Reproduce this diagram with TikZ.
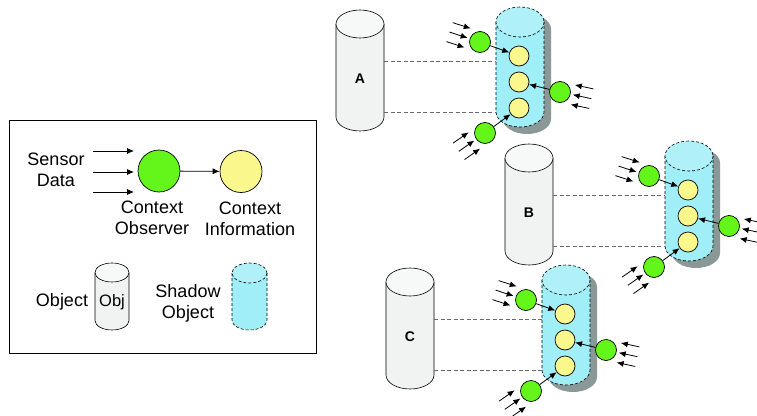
\documentclass[tikz,border=0pt]{standalone}
\usepackage{fontspec}
\setmainfont{Liberation Sans}
\usepackage{tikz}
\usetikzlibrary{arrows.meta}
\definecolor{obsgreen}{RGB}{100,245,26}
\definecolor{infoyellow}{RGB}{250,248,140}
\definecolor{shbody}{RGB}{160,238,248}
\definecolor{shtop}{RGB}{176,240,248}
\definecolor{objbody}{RGB}{241,243,243}
\definecolor{objtop}{RGB}{247,249,249}
\definecolor{dropgray}{RGB}{138,152,152}
\definecolor{linkgray}{RGB}{105,105,105}
\begin{document}
\begin{tikzpicture}[x=1pt, y=-1pt,
		every node/.style={font=\fontsize{18}{21}\selectfont},
		obs/.style={draw, circle, fill=obsgreen, minimum size=21pt, inner sep=0pt, line width=0.7pt},
		info/.style={draw, circle, fill=infoyellow, minimum size=20pt, inner sep=0pt, line width=0.7pt},
		arr/.style={-{Latex[length=7pt,width=6pt]}, line width=0.8pt},
		link/.style={draw=linkgray, dash pattern=on 4pt off 2.5pt, line width=0.8pt},
		shadowline/.style={dash pattern=on 3pt off 2pt, line width=0.6pt}]
		\useasboundingbox (0,0) rectangle (757,415);
		% legend
		\draw[line width=1pt] (9,120) rectangle (316,353);
		\node[obs, minimum size=42pt] (lobs) at (159,171) {};
		\node[info, minimum size=42pt] (linfo) at (241,171.5) {};
		\draw[arr] (lobs) -- (linfo);
		\foreach \y in {151,172,192} {
			\coordinate (s\y) at (93,\y);
			\draw[arr] (s\y) -- ++(41,0);
		}
		\node[align=center] (lsensor) at (56,170) {Sensor\\Data};
		\node[align=center] (lobstxt) at (152,218) {Context\\Observer};
		\node[align=center] (linftxt) at (250,219) {Context\\Information};
		\node (lobject) at (62,302) {Object};
		\node[align=center] (lshadow) at (188,303) {Shadow\\Object};
		\filldraw[fill=objbody, line width=0.6pt] (95,272.5) -- (95,320.5) arc[start angle=180, end angle=0, x radius=17, y radius=9.5] -- (129,272.5);
		\draw[fill=objtop, line width=0.6pt] (112,272.5) ellipse[x radius=17, y radius=9.5];
		\node[font=\fontsize{16.5}{18}\selectfont] (lobj) at (112,302) {Obj};
		\filldraw[shadowline, fill=shbody] (232,273) -- (232,320) arc[start angle=180, end angle=0, x radius=17.5, y radius=10] -- (267,273);
		\draw[shadowline, fill=shtop] (249.5,273) ellipse[x radius=17.5, y radius=10];
		% objects and their shadows
		\foreach \n/\ox/\sx/\sy in {A/336/496/7, B/505/665/141, C/386/542/265} {
			\fill[dropgray] (\sx+7,\sy+22) -- (\sx+7,\sy+112) arc[start angle=180, end angle=0, x radius=24, y radius=15] -- (\sx+55,\sy+22) arc[start angle=0, end angle=-180, x radius=24, y radius=15] -- cycle;
			\filldraw[shadowline, fill=shbody] (\sx,\sy+15) -- (\sx,\sy+105) arc[start angle=180, end angle=0, x radius=24, y radius=15] -- (\sx+48,\sy+15);
			\draw[shadowline, fill=shtop] (\sx+24,\sy+15) ellipse[x radius=24, y radius=15];
			\filldraw[fill=objbody, line width=0.6pt] (\ox,\sy+17) -- (\ox,\sy+110) arc[start angle=180, end angle=0, x radius=24, y radius=14] -- (\ox+48,\sy+17);
			\draw[fill=objtop, line width=0.6pt] (\ox+24,\sy+17) ellipse[x radius=24, y radius=14];
			\node[font=\bfseries\fontsize{14}{16}\selectfont, minimum width=48pt, inner sep=0pt] (obj\n) at (\ox+24,\sy+72) {\n};
			\node[minimum width=48pt, minimum height=90pt, inner sep=0pt] (sh\n) at (\sx+24,\sy+60) {};
			\coordinate (u\n) at (0,\sy+54);
			\coordinate (v\n) at (0,\sy+105);
			\draw[link] (obj\n.east |- u\n) -- (sh\n.west |- u\n);
			\draw[link] (obj\n.east |- v\n) -- (sh\n.west |- v\n);
			\node[info] (i1\n) at (\sx+23,\sy+49) {};
			\node[info] (i2\n) at (\sx+23,\sy+75) {};
			\node[info] (i3\n) at (\sx+23,\sy+101) {};
			\node[obs] (o1\n) at (\sx-16,\sy+35) {};
			\node[obs] (o2\n) at (\sx+64,\sy+85) {};
			\node[obs] (o3\n) at (\sx-11,\sy+126) {};
			\draw[arr] (o1\n) -- (i1\n);
			\draw[arr] (o2\n) -- (i2\n);
			\draw[arr] (o3\n) -- (i3\n);
			\foreach \o/\a in {o1/198, o2/12, o3/145}
				\foreach \d in {-10,0,10} {
					\path (\o\n) ++(\a:13) ++(\a+90:\d) coordinate (t) ++(\a:19) coordinate (s);
					\draw[arr] (s) -- (t);
				}
		}
	\end{tikzpicture}
\end{document}
